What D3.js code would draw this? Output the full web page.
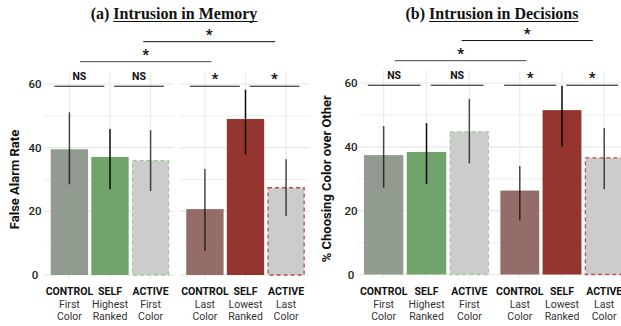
<!DOCTYPE html>
<html>
<head>
<meta charset="utf-8">
<script src="https://cdn.jsdelivr.net/npm/d3@7"></script>
<style>
  body { margin: 0; background: #fff; }
  text { font-family: Roboto, "Noto Sans", sans-serif; }
</style>
</head>
<body>
<div id="chart"></div>
<script>
// categories
var groups = ["CONTROL", "SELF", "ACTIVE"];
var subFirst = [["First", "Color"], ["Highest", "Ranked"], ["First", "Color"]];
var subLast = [["Last", "Color"], ["Lowest", "Ranked"], ["Last", "Color"]];
var yTicks = [0, 20, 40, 60];
var yMinor = [10, 30, 50];

// (a) memory: first 3 = first-color facet, last 3 = last-color facet
var memoryMean = [39.5, 37.1, 36.1, 20.7, 49.0, 27.6];
var memoryLo = [28.5, 26.9, 26.4, 7.6, 37.9, 18.5];
var memoryHi = [51.1, 45.9, 45.5, 33.3, 58.2, 36.4];

// (b) decisions
var decisionMean = [37.4, 38.4, 44.9, 26.3, 51.5, 36.7];
var decisionLo = [27.2, 28.3, 34.8, 16.9, 40.0, 26.7];
var decisionHi = [46.5, 47.4, 55.0, 34.0, 59.1, 45.9];

// significance brackets: [facetA, posA, facetB, posB, y, label] (pos in category units)
var brackets = [
  [0, -0.37, 0, 0.86, 59.3, "NS"],
  [0, 1.1, 0, 2.33, 59.3, "NS"],
  [1, -0.37, 1, 0.86, 59.3, "*"],
  [1, 1.1, 1, 2.33, 59.3, "*"],
  [0, 0.26, 1, 0.16, 67.0, "*"],
  [0, 1.82, 1, 1.73, 73.3, "*"]
];

var fills = ["#929b8f", "#70a46b", "#cccccc", "#946c68", "#93352e", "#cccccc"];
var dashStroke = ["#9ccb96", "#b3524b"];

var panels = [
  { pre: "(a) ", title: "Intrusion in Memory", ylab: "False Alarm Rate",
    mean: memoryMean, lo: memoryLo, hi: memoryHi,
    facets: [[47.5, 172.5], [183, 308]], y0: 275, y60: 84,
    tickX: 35, ylabX: 19, titleX: 174 },
  { pre: "(b) ", title: "Intrusion in Decisions", ylab: "% Choosing Color over Other",
    mean: decisionMean, lo: decisionLo, hi: decisionHi,
    facets: [[360.5, 492.5], [497, 627]], y0: 274.5, y60: 83,
    tickX: 351, ylabX: 331, titleX: 492 }
];

var svg = d3.select("#chart").append("svg")
  .attr("width", 621).attr("height", 326);

panels.forEach(function (p) {
  var g = svg.append("g");
  var y = d3.scaleLinear().domain([0, 60]).range([p.y0, p.y60]);
  var yTop = y(63.8);
  var xs = p.facets.map(function (r) {
    return d3.scaleBand().domain(groups).range(r).paddingInner(0.08).paddingOuter(0.08);
  });
  function cx(f, i) {
    var x = xs[f];
    return x.range()[0] + x.step() * x.paddingOuter() + x.bandwidth() / 2 + i * x.step();
  }

  // grid
  xs.forEach(function (x, f) {
    var r = x.range();
    g.selectAll(null).data(yMinor).enter().append("line")
      .attr("x1", r[0] - 3.5).attr("x2", r[1] + 1.5)
      .attr("y1", function (d) { return y(d); }).attr("y2", function (d) { return y(d); })
      .attr("stroke", "#f0f0f0").attr("stroke-width", 1);
    g.selectAll(null).data(yTicks).enter().append("line")
      .attr("x1", r[0] - 3.5).attr("x2", r[1] + 1.5)
      .attr("y1", function (d) { return y(d); }).attr("y2", function (d) { return y(d); })
      .attr("stroke", "#e8e8e8").attr("stroke-width", 1.2);
    g.selectAll(null).data(groups).enter().append("line")
      .attr("x1", function (d) { return x(d) + x.bandwidth() / 2; })
      .attr("x2", function (d) { return x(d) + x.bandwidth() / 2; })
      .attr("y1", yTop).attr("y2", y(0) + 4)
      .attr("stroke", "#ebebeb").attr("stroke-width", 1.2);
  });

  // bars
  var rows = p.mean.map(function (m, k) {
    return { f: Math.floor(k / 3), grp: groups[k % 3], m: m, lo: p.lo[k], hi: p.hi[k], k: k };
  });
  g.selectAll("rect.bar").data(rows).enter().append("rect")
    .attr("class", "bar")
    .attr("x", function (d) { return xs[d.f](d.grp) + (d.grp === "ACTIVE" ? 0.6 : 0); })
    .attr("width", function (d) { return xs[d.f].bandwidth() - (d.grp === "ACTIVE" ? 1.2 : 0); })
    .attr("y", function (d) { return y(d.m) + (d.grp === "ACTIVE" ? 0.6 : 0); })
    .attr("height", function (d) { return y(0) - y(d.m) - (d.grp === "ACTIVE" ? 0.6 : 0); })
    .attr("fill", function (d) { return fills[d.k]; })
    .attr("stroke", function (d) { return d.grp === "ACTIVE" ? dashStroke[d.f] : "none"; })
    .attr("stroke-width", 1.3)
    .attr("stroke-dasharray", "4,3");

  // error bars
  g.selectAll("line.err").data(rows).enter().append("line")
    .attr("class", "err")
    .attr("x1", function (d) { return xs[d.f](d.grp) + xs[d.f].bandwidth() / 2; })
    .attr("x2", function (d) { return xs[d.f](d.grp) + xs[d.f].bandwidth() / 2; })
    .attr("y1", function (d) { return y(d.hi); })
    .attr("y2", function (d) { return y(d.lo); })
    .attr("stroke", "#000")
    .attr("stroke-opacity", function (d) { return d.grp === "SELF" ? 0.95 : 0.7; })
    .attr("stroke-width", 1.5);

  // y tick labels
  g.selectAll("text.tick").data(yTicks).enter().append("text")
    .attr("x", p.tickX).attr("y", function (d) { return y(d); })
    .attr("dy", "0.36em").attr("text-anchor", "middle")
    .style("font-size", "11.5px").style("font-weight", 500).style("fill", "#222")
    .text(function (d) { return d; });

  // y title
  g.append("text")
    .attr("transform", "translate(" + p.ylabX + "," + (y(0) + y(60)) / 2 + ")rotate(-90)")
    .attr("text-anchor", "middle")
    .style("font-size", "13px").style("font-weight", 700).style("fill", "#111")
    .text(p.ylab);

  // x labels
  rows.forEach(function (d) {
    var x0 = xs[d.f](d.grp) + xs[d.f].bandwidth() / 2;
    var sub = (d.f === 0 ? subFirst : subLast)[d.k % 3];
    g.append("text").attr("x", x0).attr("y", 295).attr("text-anchor", "middle")
      .style("font-size", "10.5px").style("font-weight", 700).style("fill", "#111")
      .text(d.grp);
    sub.forEach(function (s, j) {
      g.append("text").attr("x", x0).attr("y", 307.5 + j * 12.5).attr("text-anchor", "middle")
        .style("font-size", "10.5px").style("fill", "#333")
        .text(s);
    });
  });

  // brackets
  brackets.forEach(function (b, bi) {
    var x1 = cx(b[0], b[1]), x2 = cx(b[2], b[3]), yy = y(b[4]);
    g.append("line").attr("x1", x1).attr("x2", x2).attr("y1", yy).attr("y2", yy)
      .attr("stroke", bi === 4 ? "#444" : "#111").attr("stroke-width", 1);
    var t = g.append("text").attr("x", (x1 + x2) / 2).attr("text-anchor", "middle")
      .style("font-weight", 700).style("fill", "#111").text(b[5]);
    if (b[5] === "*") {
      t.attr("y", yy - 2).style("font-size", "15px");
    } else {
      t.attr("y", yy - 6.5).style("font-size", "10.5px");
    }
  });

  // title with underline
  var tt = g.append("text").attr("y", 18.5)
    .style("font-family", "'Liberation Serif', serif")
    .style("font-size", "16px").style("font-weight", 700).style("fill", "#111");
  tt.append("tspan").text(p.pre);
  tt.append("tspan").text(p.title);
  var full = tt.node().getComputedTextLength();
  var preW = tt.node().getSubStringLength(0, p.pre.length);
  var left = p.titleX - full / 2;
  tt.attr("x", left);
  g.append("line").attr("x1", left + preW).attr("x2", left + full)
    .attr("y1", 21.5).attr("y2", 21.5).attr("stroke", "#111").attr("stroke-width", 1);
});
</script>
</body>
</html>
